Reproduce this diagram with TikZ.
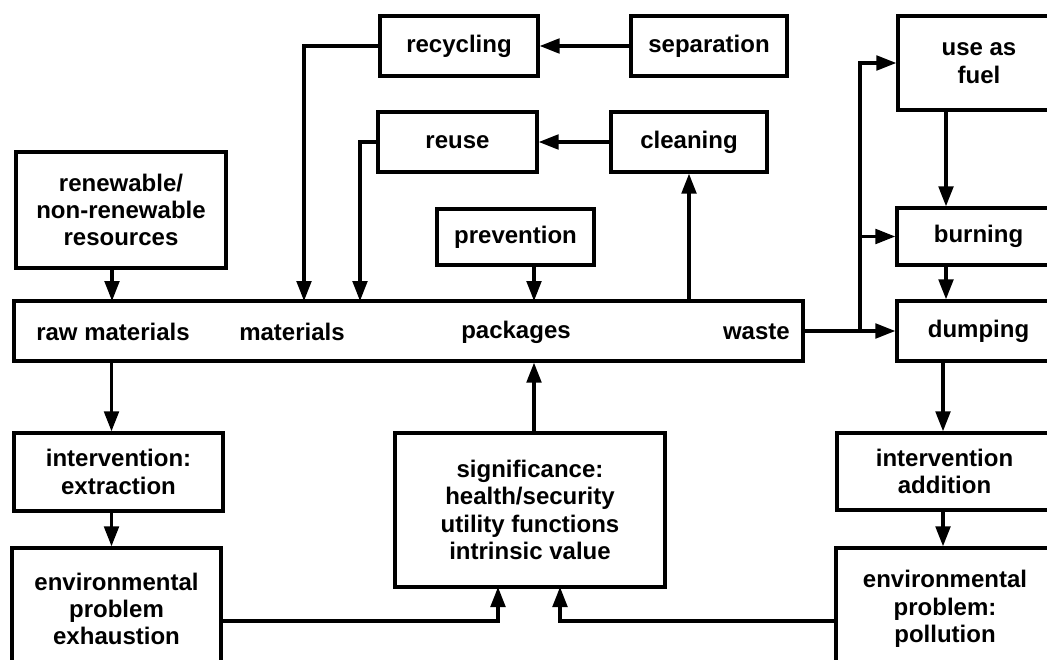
\documentclass[tikz,border=0pt]{standalone}
\usepackage{fontspec}
\setmainfont{Liberation Sans}
\usetikzlibrary{arrows.meta,calc}
\tikzset{
  box/.style={draw, line width=2.5pt, inner sep=0pt, align=center,
    font=\bfseries\fontsize{18}{20.5}\selectfont},
  sz/.style 2 args={minimum width=#1*0.75pt, minimum height=#2*0.75pt},
  lbl/.style={inner sep=0pt, font=\bfseries\fontsize{18}{20.5}\selectfont},
  arr/.style={line width=2.4pt, -{Triangle[length=15pt,width=11pt]}},
}
\begin{document}
\begin{tikzpicture}[x=0.75pt,y=-0.75pt]
\fill[white] (0,0) rectangle (1047,660);
\useasboundingbox (0,0) rectangle (1047,660);
\clip (0,0) rectangle (1047,660);
% boxes
\node[box, sz={158}{60}] (recyc) at (459,46) {recycling};
\node[box, sz={156}{60}] (sep) at (709,46) {separation};
\node[box, sz={159}{60}] (reuse) at (457.5,142) {reuse};
\node[box, sz={156}{60}] (clean) at (689,142) {cleaning};
\node[box, sz={157}{56}] (prev) at (515.5,237) {prevention};
\node[box, sz={210}{116}] (res) at (121,210) {renewable/\\non-renewable\\resources};
\node[box, sz={789}{60}] (bar) at (408.5,331) {};
\node[lbl] (raw) at (113,332) {raw materials};
\node[lbl] (mat) at (292,332) {materials};
\node[lbl] (pack) at (516,332) {packages};
\node[lbl, anchor=east] (waste) at (790,332) {waste};
\node[box, sz={162}{94}] (fuel) at (979,63) {use as\\fuel};
\node[box, sz={163}{57}] (burn) at (978.5,236.5) {burning};
\node[box, sz={163}{60}] (dump) at (978.5,331) {dumping};
\node[box, sz={215}{77}] (add) at (944.5,471.5) {intervention\\addition};
\node[box, sz={218}{122}] (poll) at (945,609) {environmental\\problem:\\pollution};
\node[box, sz={209}{78}] (ext) at (118.5,472) {intervention:\\extraction};
\node[box, sz={209}{122}] (exh) at (116.5,609) {environmental\\problem\\exhaustion};
\node[box, sz={270}{154}] (sig) at (530,510) {significance:\\health/security\\utility functions\\intrinsic value};
% helper coordinates
\coordinate (m1) at (304,301);
\coordinate (m2) at (360,301);
\coordinate (p1) at (534,301);
\coordinate (r1) at (112,301);
\coordinate (c1) at (111.5,0);
\coordinate (s1) at (498,587);
\coordinate (s2) at (560,587);
\coordinate (j) at (860,331);
\coordinate (c3) at (946,0);
\coordinate (c4) at (943,0);
% connectors
\draw[arr] (sep.west) -- (recyc.east);
\draw[arr] (clean.west) -- (reuse.east);
\draw[arr] (recyc.west) -| (m1);
\draw[arr] (reuse.west) -| (m2);
\draw[arr] (prev.south -| p1) -- (p1);
\draw[arr] (bar.north -| clean.south) -- (clean.south);
\draw[arr] (res.south -| r1) -- (r1);
\draw[arr] (bar.south -| c1) -- (ext.north -| c1);
\draw[arr] (ext.south -| c1) -- (exh.north -| c1);
\draw[arr] (sig.north -| p1) -- (bar.south -| p1);
\draw[arr] ($(exh.east)+(0,12)$) -| (s1);
\draw[arr] ($(poll.west)+(0,12)$) -| (s2);
\draw[arr] (bar.east) -- (dump.west);
\draw[arr] (j) |- (fuel.west);
\draw[arr] (j) |- (burn.west);
\draw[arr] (fuel.south -| c3) -- (burn.north -| c3);
\draw[arr] (burn.south -| c3) -- (dump.north -| c3);
\draw[arr] (dump.south -| c4) -- (add.north -| c4);
\draw[arr] (add.south -| c4) -- (poll.north -| c4);
\end{tikzpicture}
\end{document}
